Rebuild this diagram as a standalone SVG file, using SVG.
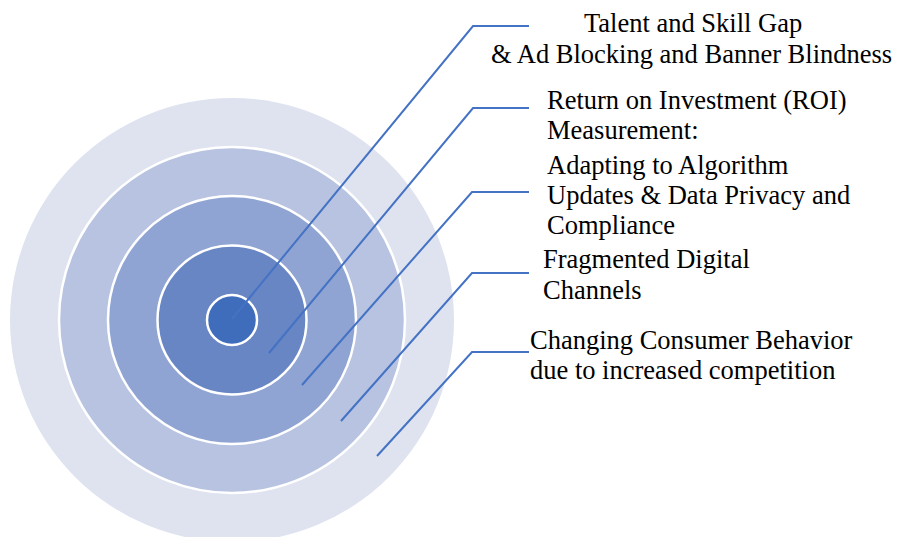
<svg xmlns="http://www.w3.org/2000/svg" width="897" height="537" viewBox="0 0 897 537">
  <style>
    .ring { stroke: #ffffff; stroke-width: 2.5; }
    .leader { fill: none; stroke: #4472C4; stroke-width: 2; }
    .label { font-family: "Liberation Serif", "Times New Roman", serif; font-size: 26.5px; fill: #000000; }
  </style>
  <rect width="897" height="537" fill="#ffffff"/>

  <!-- concentric target rings, outermost first -->
  <g id="ring-outer"><circle cx="232" cy="320" r="222" fill="#DEE3EF"/></g>
  <g id="ring-2"><circle class="ring" cx="232" cy="320" r="173" fill="#B7C3E0"/></g>
  <g id="ring-3"><circle class="ring" cx="232" cy="320" r="124" fill="#8FA4D2"/></g>
  <g id="ring-4"><circle class="ring" cx="232" cy="320" r="74.5" fill="#6885C4"/></g>
  <g id="ring-core"><circle class="ring" cx="232" cy="320" r="25" fill="#3F6DBB"/></g>

  <!-- leader lines from each ring to its label -->
  <g id="connectors">
    <polyline class="leader" points="232,319 473,26 529,26"/>
    <polyline class="leader" points="269,353 473,108 529,108"/>
    <polyline class="leader" points="302,385 472,192 529,192"/>
    <polyline class="leader" points="341,421 472,273 529,273"/>
    <polyline class="leader" points="377,456 472,352 529,352"/>
  </g>

  <g id="label-talent">
    <text class="label" x="584" y="32">Talent and Skill Gap</text>
    <text class="label" x="491" y="63">&amp; Ad Blocking and Banner Blindness</text>
  </g>
  <g id="label-roi">
    <text class="label" x="547" y="109">Return on Investment (ROI)</text>
    <text class="label" x="547" y="139">Measurement:</text>
  </g>
  <g id="label-algorithm">
    <text class="label" x="547" y="174">Adapting to Algorithm</text>
    <text class="label" x="547" y="204">Updates &amp; Data Privacy and</text>
    <text class="label" x="547" y="234">Compliance</text>
  </g>
  <g id="label-channels">
    <text class="label" x="543" y="268">Fragmented Digital</text>
    <text class="label" x="543" y="299">Channels</text>
  </g>
  <g id="label-consumer">
    <text class="label" x="530" y="349">Changing Consumer Behavior</text>
    <text class="label" x="530" y="379">due to increased competition</text>
  </g>
</svg>
